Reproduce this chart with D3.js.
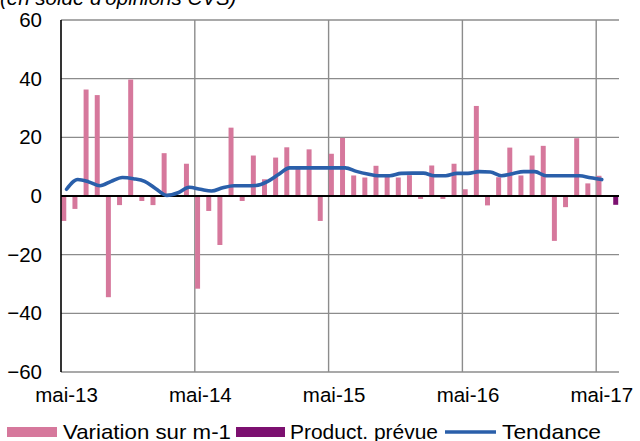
<!DOCTYPE html>
<html><head><meta charset="utf-8">
<script src="https://cdn.jsdelivr.net/npm/d3@7"></script>
<style>
html,body{margin:0;padding:0;background:#fff;}
text{font-family:"Liberation Sans",Arial,sans-serif;fill:#000;}
</style></head>
<body><svg id="c" width="640" height="441"></svg>
<script>
const months = ["mai-13","juin-13","juil-13","août-13","sept-13","oct-13","nov-13","déc-13",
"janv-14","févr-14","mars-14","avr-14","mai-14","juin-14","juil-14","août-14","sept-14","oct-14","nov-14","déc-14",
"janv-15","févr-15","mars-15","avr-15","mai-15","juin-15","juil-15","août-15","sept-15","oct-15","nov-15","déc-15",
"janv-16","févr-16","mars-16","avr-16","mai-16","juin-16","juil-16","août-16","sept-16","oct-16","nov-16","déc-16",
"janv-17","févr-17","mars-17","avr-17","mai-17","juin-17"];
const variation = [-8.5,-4.4,36.3,34.4,-34.5,-3.1,39.7,-1.7,-3.1,14.6,
0,11.0,-31.6,-5.1,-16.7,23.3,-1.7,13.8,5.7,13.1,
16.6,9.5,15.9,-8.5,14.4,19.8,7.0,6.3,10.3,6.8,6.3,7.1,
-1.0,10.4,-1.0,11.0,2.3,30.7,-3.2,6.4,16.5,7.0,13.8,17.1,
-15.3,-3.8,19.7,4.3,6.9,null];
const prevue = [null,null,null,null,null,null,null,null,null,null,
null,null,null,null,null,null,null,null,null,null,
null,null,null,null,null,null,null,null,null,null,null,null,
null,null,null,null,null,null,null,null,null,null,null,null,
null,null,null,null,null,-3.0];
const tendance = [2.3,5.6,4.8,3.5,5.0,6.3,5.9,5.0,2.5,0.2,
1.1,3.0,2.3,1.7,2.8,3.5,3.5,3.6,4.9,7.3,
9.6,9.6,9.6,9.6,9.6,9.6,8.4,7.5,6.9,6.9,7.7,7.8,
7.8,6.9,6.9,7.7,7.7,8.3,8.2,6.9,7.6,8.3,8.3,6.9,
6.9,6.9,6.9,6.2,5.6,null];
const yTicks = [-60,-40,-20,0,20,40,60];
const xTickLabels = ["mai-13","mai-14","mai-15","mai-16","mai-17"];
const seriesNames = ["Variation sur m-1","Product. prévue","Tendance"];
const title = "(en solde d'opinions CVS)";

const colPink = "#d6789c", colPurple = "#7c1070", colBlue = "#2a5faa";
const svg = d3.select("#c");
const L = 61, R = 618.5, T = 20, B = 372;
const x = d3.scaleBand().domain(months).range([L, R]).paddingInner(0).paddingOuter(0);
const sub = d3.scaleBand().domain([0,1]).range([0, x.bandwidth()]).padding(0);
const y = d3.scaleLinear().domain([-60, 60]).range([B, T]);

// title (partly cut off at the top, as in the original)
svg.append("text").attr("x", 0).attr("y", 5).attr("font-size", 20.5)
  .attr("font-style", "italic").text(title);

// horizontal gridlines
svg.append("g").selectAll("line").data(yTicks.filter(d => d !== 0)).join("line")
  .attr("x1", L).attr("x2", 619).attr("y1", d => y(d)).attr("y2", d => y(d))
  .attr("stroke", "#8c8c8c").attr("stroke-width", 1.4);
// vertical gridlines at year labels
svg.append("g").selectAll("line").data(xTickLabels.slice(1)).join("line")
  .attr("x1", d => x(d)).attr("x2", d => x(d)).attr("y1", T).attr("y2", B)
  .attr("stroke", "#8c8c8c").attr("stroke-width", 1.4);

// y axis labels
const yAxis = d3.axisLeft(y).tickValues(yTicks).tickSize(0).tickPadding(0).tickFormat(d3.format("d"));
const ga = svg.append("g").attr("transform", `translate(${L - 19},0)`).call(yAxis);
ga.select(".domain").remove();
ga.selectAll("text").attr("font-size", 20.5).attr("font-family", "Liberation Sans, Arial, sans-serif").attr("fill", "#000");

// x labels
const xAxis = d3.axisBottom(x).tickValues(xTickLabels).tickSize(0).tickPadding(0);
const gx = svg.append("g").attr("transform", `translate(0,${B + 15})`).call(xAxis);
gx.select(".domain").remove();
gx.selectAll("text").attr("font-size", 20.5).attr("font-family", "Liberation Sans, Arial, sans-serif").attr("fill", "#000").attr("dy", "0.71em");

// bars
const barW = sub.bandwidth();
svg.append("g").selectAll("rect").data(months.map((m, i) => ({m, v: variation[i]})).filter(d => d.v !== null))
  .join("rect")
  .attr("x", d => x(d.m) + sub(0) + 0.3).attr("width", barW - 0.6)
  .attr("y", d => y(Math.max(0, d.v))).attr("height", d => Math.abs(y(d.v) - y(0)))
  .attr("fill", colPink);
svg.append("g").selectAll("rect").data(months.map((m, i) => ({m, v: prevue[i]})).filter(d => d.v !== null))
  .join("rect")
  .attr("x", d => x(d.m) + sub(1) + 0.3).attr("width", barW - 0.6)
  .attr("y", d => y(Math.max(0, d.v))).attr("height", d => Math.abs(y(d.v) - y(0)))
  .attr("fill", colPurple);

// zero line & left axis
svg.append("line").attr("x1", L).attr("x2", 619).attr("y1", y(0)).attr("y2", y(0))
  .attr("stroke", "#000").attr("stroke-width", 2);
svg.append("line").attr("x1", L).attr("x2", L).attr("y1", T).attr("y2", B)
  .attr("stroke", "#000").attr("stroke-width", 1.6);

// trend line
const line = d3.line().defined(d => d.v !== null)
  .x(d => x(d.m) + x.bandwidth() / 2).y(d => y(d.v)).curve(d3.curveMonotoneX);
svg.append("path").datum(months.map((m, i) => ({m, v: tendance[i]})))
  .attr("d", line).attr("fill", "none").attr("stroke", colBlue)
  .attr("stroke-width", 3.6).attr("stroke-linejoin", "round").attr("stroke-linecap", "round");

// legend
const lg = svg.append("g");
lg.append("rect").attr("x", 7).attr("y", 427).attr("width", 50).attr("height", 10).attr("fill", colPink);
lg.append("text").attr("x", 63).attr("y", 438.5).attr("font-size", 21)
  .attr("textLength", 168).attr("lengthAdjust", "spacingAndGlyphs").text(seriesNames[0]);
lg.append("rect").attr("x", 236).attr("y", 427).attr("width", 49).attr("height", 10).attr("fill", colPurple);
lg.append("text").attr("x", 290).attr("y", 438.5).attr("font-size", 21)
  .attr("textLength", 148).attr("lengthAdjust", "spacingAndGlyphs").text(seriesNames[1]);
lg.append("line").attr("x1", 445).attr("x2", 496).attr("y1", 432).attr("y2", 432)
  .attr("stroke", colBlue).attr("stroke-width", 3.6);
lg.append("text").attr("x", 502).attr("y", 438.5).attr("font-size", 21)
  .attr("textLength", 99).attr("lengthAdjust", "spacingAndGlyphs").text(seriesNames[2]);
</script></body></html>
